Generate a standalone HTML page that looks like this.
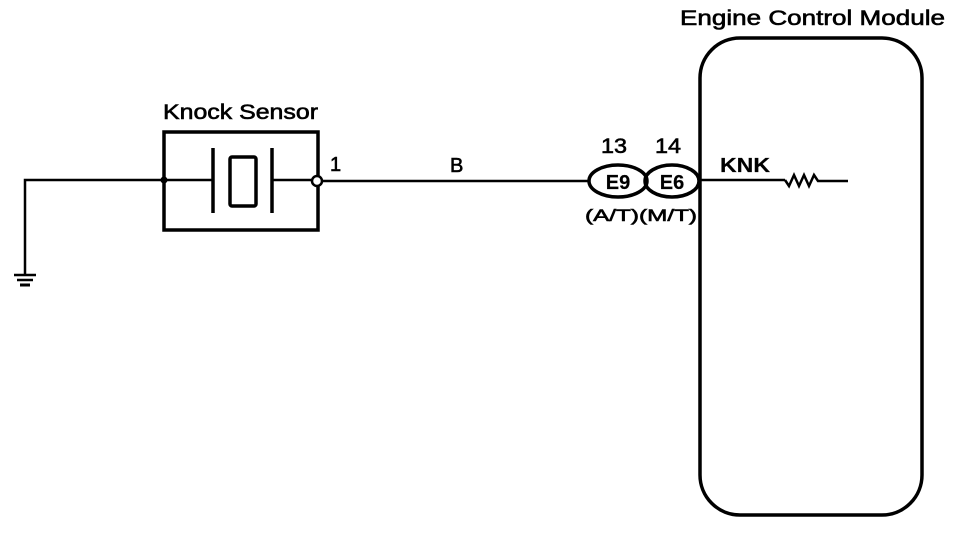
<!DOCTYPE html>
<html><head><style>
html,body{margin:0;padding:0;background:#fff;}
svg{display:block;}
text{font-family:"Liberation Sans",Arial,sans-serif;fill:#000;stroke:#000;stroke-width:0.6;}
text.b{stroke-width:0.2;}
</style></head><body>
<svg width="960" height="534" viewBox="0 0 960 534" xmlns="http://www.w3.org/2000/svg">
<g stroke="#000" fill="none">
<polyline points="163,180 25,180 25,275" stroke-width="2.5"/>
<line x1="14" y1="275" x2="36" y2="275" stroke-width="2.5"/>
<line x1="17" y1="280" x2="33" y2="280" stroke-width="2.5"/>
<line x1="20" y1="285" x2="30" y2="285" stroke-width="3"/>
<rect x="164" y="132" width="154" height="98" stroke-width="3.5"/>
<line x1="164" y1="180" x2="213" y2="180" stroke-width="2.5"/>
<line x1="213" y1="148" x2="213" y2="213" stroke-width="3.5"/>
<line x1="272" y1="148" x2="272" y2="213" stroke-width="3.5"/>
<rect x="230" y="157" width="26" height="49" rx="2" stroke-width="3.5"/>
<line x1="272" y1="180" x2="312" y2="180" stroke-width="2.5"/>
<circle cx="164" cy="180" r="3" fill="#000"/>
<circle cx="317" cy="181" r="5" fill="#fff" stroke-width="2.5"/>
<line x1="322" y1="181" x2="590" y2="181" stroke-width="2.5"/>
<ellipse cx="618" cy="181" rx="29" ry="16" stroke-width="3.5"/>
<ellipse cx="672" cy="181" rx="27" ry="16" stroke-width="3.5"/>
<rect x="700" y="38" width="222" height="477" rx="40" stroke-width="3.5"/>
<line x1="700" y1="180" x2="785" y2="180" stroke-width="2.5"/>
<polyline points="785,180 789,186 794,175 799,186 804,175 809,186 814,175 818,181 848,181" stroke-width="2.5"/>
</g>
<text x="163" y="119" font-size="21" textLength="155" lengthAdjust="spacingAndGlyphs">Knock Sensor</text>
<text x="330" y="171" font-size="20">1</text>
<text x="450" y="172" font-size="20">B</text>
<text x="601" y="153" font-size="21" textLength="26" lengthAdjust="spacingAndGlyphs">13</text>
<text x="655" y="153" font-size="21" textLength="26" lengthAdjust="spacingAndGlyphs">14</text>
<text class="b" x="618" y="189" font-size="20" text-anchor="middle" font-weight="bold">E9</text>
<text class="b" x="672" y="189" font-size="20" text-anchor="middle" font-weight="bold">E6</text>
<text x="585" y="221" font-size="17" textLength="112" lengthAdjust="spacingAndGlyphs">(A/T)(M/T)</text>
<text class="b" x="720" y="172" font-size="20" font-weight="bold" textLength="50" lengthAdjust="spacingAndGlyphs">KNK</text>
<text x="680" y="25" font-size="21" textLength="265" lengthAdjust="spacingAndGlyphs">Engine Control Module</text>
</svg>
</body></html>
